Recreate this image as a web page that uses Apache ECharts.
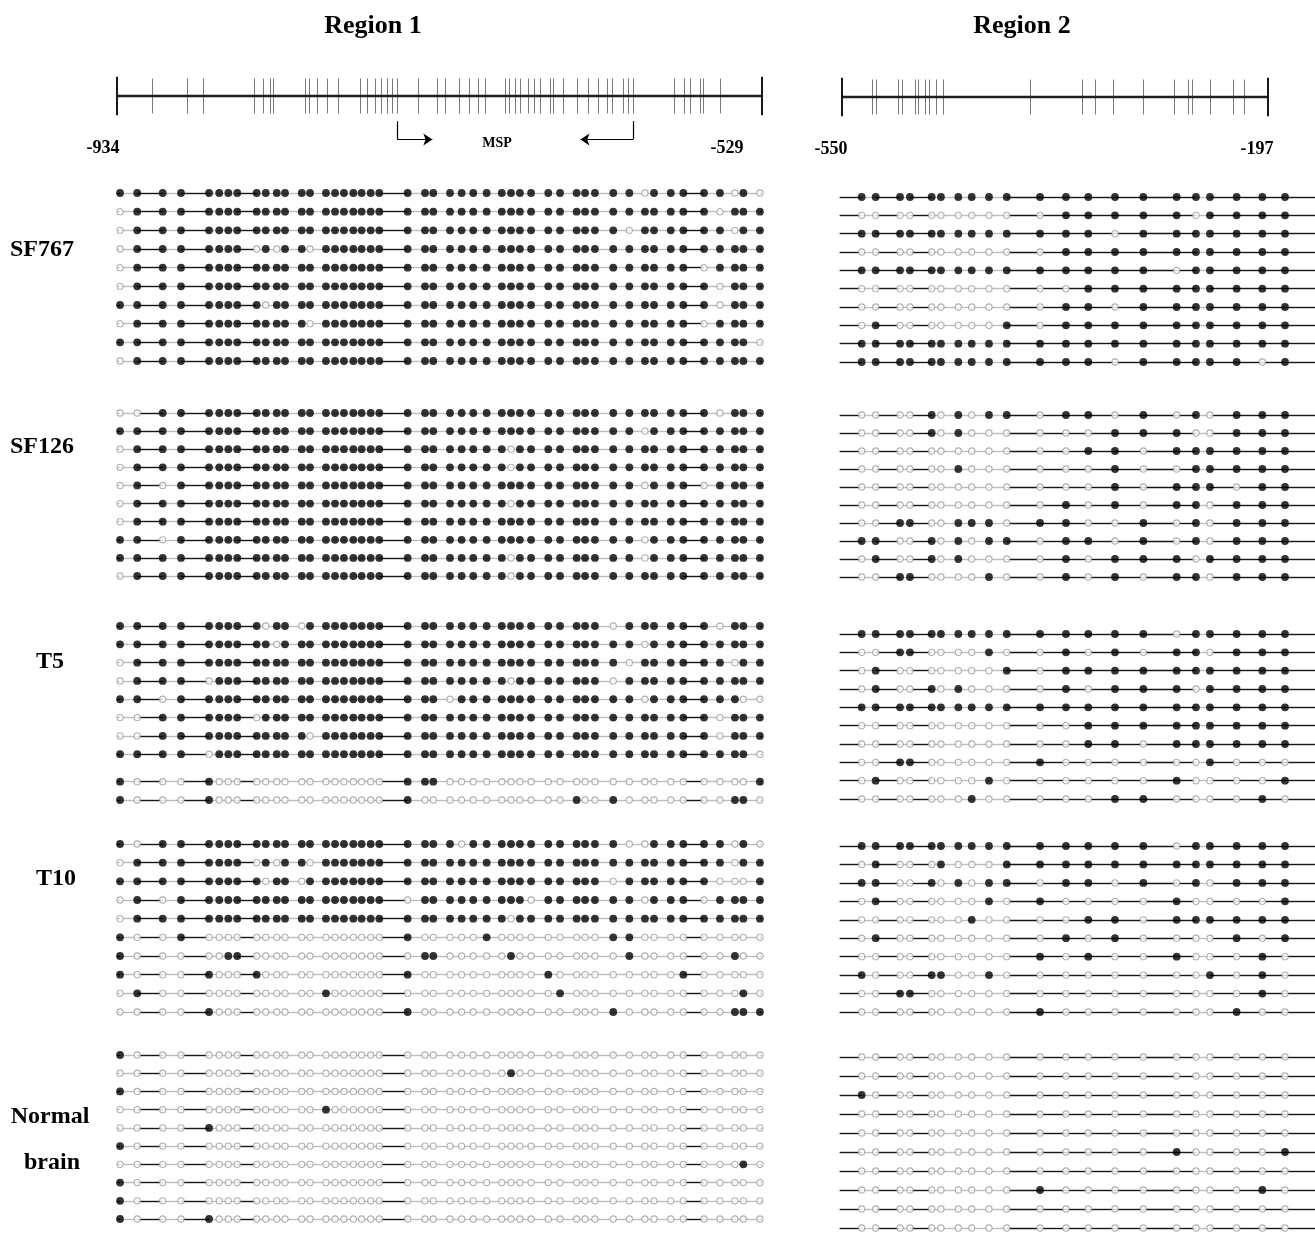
<!DOCTYPE html>
<html><head><meta charset="utf-8">
<script src="https://cdn.jsdelivr.net/npm/echarts@6/dist/echarts.min.js"></script>
<style>html,body{margin:0;padding:0;background:#fff}#c{width:1315px;height:1245px}</style>
</head><body><div id="c"></div>
<script>
// ---------------- DATA ----------------
const regionTitles = ['Region 1', 'Region 2'];
const sampleNames = ['SF767', 'SF126', 'T5', 'T10', 'Normal brain'];
const r1Range = [-934, -529];
const r2Range = [-550, -197];
// CpG ticks on the rulers (bp)
const r1CpG = [-912,-890,-880,-848,-842,-838,-836,-816,-813,-808,-802,-795,-781,-777,-772,-768,-764,-761,-758,-745,-733,-728,-719,-713,-707,-703,-690,-688,-684,-681,-676,-672,-668,-662,-660,-654,-645,-638,-632,-626,-623,-616,-613,-610,-584,-578,-574,-568,-566,-555];
const r2CpG = [-525,-522,-503,-500,-489,-487,-481,-478,-472,-466,-394,-351,-340,-325,-300,-275,-263,-260,-245,-226,-217];
// schematic positions of the lollipop sites (bp scale of each ruler)
const r1Sites = [-932.1,-921.3,-905.3,-893.8,-876.2,-869.8,-864.1,-858.5,-846.3,-840.6,-833.7,-828.5,-818.0,-812.8,-802.8,-797.1,-791.5,-785.6,-780.4,-774.7,-769.3,-751.5,-740.6,-735.4,-724.9,-717.6,-710.3,-701.9,-692.4,-686.6,-681.0,-674.0,-663.2,-655.8,-645.4,-640.1,-633.9,-622.4,-612.3,-602.5,-596.8,-586.3,-578.4,-565.4,-555.4,-546.0,-540.7,-530.3];
const r2Sites = [-533.7,-522.1,-501.9,-493.7,-475.7,-468.0,-453.6,-442.5,-428.2,-413.5,-385.9,-364.4,-345.9,-323.8,-300.3,-272.7,-256.7,-245.1,-223.0,-201.7,-182.9];
const r2LineSpan = [-552, -158];
const mspForward = [-758, -736];
const mspReverse = [-610, -643];
const mspLabel = 'MSP';

// methylation state per clone: 1 = methylated (filled), 0 = unmethylated (open)
const sf767R1 = [
'1111 1111 11 11 11 1111111 1 11 1111 1111 11 111 1 1 01 111 1 01 0',
'0111 1111 11 11 11 1111111 1 11 1111 1111 11 111 1 1 11 111 0 11 1',
'0111 1111 11 11 11 1111111 1 11 1111 1111 11 111 1 0 11 111 1 01 1',
'0111 1111 01 01 10 1111111 1 11 1111 1111 11 111 1 1 11 111 1 11 1',
'0111 1111 11 11 11 1111111 1 11 1111 1111 11 111 1 1 11 110 1 11 1',
'0111 1111 11 11 11 1111111 1 11 1111 1111 11 111 1 1 11 111 0 11 1',
'1111 1111 10 11 11 1111111 1 11 1111 1111 11 111 1 1 11 111 0 11 1',
'0111 1111 11 11 10 1111111 1 11 1111 1111 11 111 1 1 11 110 1 11 1',
'1111 1111 11 11 11 1111111 1 11 1111 1111 11 111 1 1 11 111 1 11 0',
'0111 1111 11 11 11 1111111 1 11 1111 1111 11 111 1 1 11 111 1 11 1'];
const sf126R1 = [
'0011 1111 11 11 11 1111111 1 11 1111 1111 11 111 1 1 11 111 0 11 1',
'1111 1111 11 11 11 1111111 1 11 1111 1111 11 111 1 1 01 111 1 11 1',
'0111 1111 11 11 11 1111111 1 11 1111 1011 11 111 1 1 11 111 1 11 1',
'0111 1111 11 11 11 1111111 1 11 1111 1011 11 111 1 1 11 111 1 11 1',
'0101 1111 11 11 11 1111111 1 11 1111 1111 11 111 1 1 01 110 1 11 1',
'0111 1111 11 11 11 1111111 1 11 1111 1011 11 111 1 1 11 111 1 11 1',
'0111 1111 11 11 11 1111111 1 11 1111 1111 11 111 1 1 11 111 1 11 1',
'1101 1111 11 11 11 1111111 1 11 1111 1111 11 111 1 1 01 111 1 11 1',
'1111 1111 11 11 11 1111111 1 11 1111 1011 11 111 1 1 01 111 1 11 1',
'0111 1111 11 11 11 1111111 1 11 1111 1011 11 111 1 1 11 111 1 11 1'];
const t5R1 = [
'1111 1111 10 11 01 1111111 1 11 1111 1111 11 111 0 1 11 111 0 11 1',
'1111 1111 11 01 11 1111111 1 11 1111 1111 11 111 1 1 01 111 1 11 1',
'0111 1111 11 11 11 1111111 1 11 1111 1111 11 111 1 0 11 111 1 01 1',
'0111 0111 11 11 11 1111111 1 11 1111 1011 11 111 0 1 11 111 1 11 1',
'1101 1111 11 11 11 1111111 1 11 0111 1111 11 111 1 1 01 111 1 10 0',
'0011 1111 01 11 11 1111111 1 11 1111 1111 11 111 1 1 11 111 0 11 1',
'0011 1111 11 11 10 1111111 1 11 1111 1111 11 111 1 1 11 111 0 11 1',
'1111 0111 11 11 11 1111111 1 11 1111 1111 11 111 1 1 11 111 1 11 0',
'1000 1000 00 00 00 0000000 1 11 0000 0000 00 000 0 0 00 000 0 00 1',
'1000 1000 00 00 00 0000000 1 00 0000 0000 00 100 1 0 00 000 0 11 0'];
const t10R1 = [
'1011 1111 11 11 11 1111111 1 11 1011 1111 11 111 1 0 01 111 1 01 0',
'0111 1111 01 01 10 1111111 1 11 1111 1111 11 111 1 1 11 111 1 01 1',
'1111 1111 10 11 01 1111111 1 11 1111 1111 11 111 0 1 11 111 0 00 1',
'0101 1111 11 11 11 1111111 0 11 1111 1110 11 111 1 1 01 110 1 11 1',
'0111 1111 11 11 11 1111111 1 11 1111 1011 11 111 1 1 11 111 1 11 1',
'1001 0000 00 00 00 0000000 1 00 0001 0000 00 000 1 1 00 000 0 00 0',
'1000 0011 00 00 00 0000000 0 11 0000 0100 00 000 0 1 00 000 0 10 0',
'1000 1000 10 00 00 0000000 1 00 0000 0000 10 000 0 0 00 010 0 00 0',
'0100 0000 00 00 00 1000000 0 00 0000 0000 01 000 0 0 00 000 0 01 0',
'0000 1000 00 00 00 0000000 1 00 0000 0000 00 000 1 0 00 000 0 11 1'];
const normalR1 = [
'1000 0000 00 00 00 0000000 0 00 0000 0000 00 000 0 0 00 000 0 00 0',
'0000 0000 00 00 00 0000000 0 00 0000 0100 00 000 0 0 00 000 0 00 0',
'1000 0000 00 00 00 0000000 0 00 0000 0000 00 000 0 0 00 000 0 00 0',
'0000 0000 00 00 00 1000000 0 00 0000 0000 00 000 0 0 00 000 0 00 0',
'0000 1000 00 00 00 0000000 0 00 0000 0000 00 000 0 0 00 000 0 00 0',
'1000 0000 00 00 00 0000000 0 00 0000 0000 00 000 0 0 00 000 0 00 0',
'0000 0000 00 00 00 0000000 0 00 0000 0000 00 000 0 0 00 000 0 01 0',
'1000 0000 00 00 00 0000000 0 00 0000 0000 00 000 0 0 00 000 0 00 0',
'1000 0000 00 00 00 0000000 0 00 0000 0000 00 000 0 0 00 000 0 00 0',
'1000 1000 00 00 00 0000000 0 00 0000 0000 00 000 0 0 00 000 0 00 0'];

const sf767R2 = [
'11 11 11 11 1 1 1 1 1 1 1 111 1 1 1',
'00 00 00 00 0 0 0 1 1 1 1 101 1 1 1',
'11 11 11 11 1 1 1 1 1 0 1 111 1 1 1',
'00 00 00 00 0 0 0 1 1 1 1 111 1 1 1',
'11 11 11 11 1 1 1 1 1 1 1 011 1 1 1',
'00 00 00 00 0 0 0 0 1 1 1 111 1 1 1',
'00 00 00 00 0 0 0 1 1 0 1 111 1 1 1',
'01 00 00 00 0 1 0 1 1 1 1 111 1 1 1',
'11 11 11 11 1 1 1 1 1 1 1 111 1 1 1',
'11 11 11 11 1 1 1 1 1 0 1 111 1 0 1'];
const sf126R2 = [
'00 00 10 10 1 1 0 1 1 0 1 010 1 1 1',
'00 00 10 10 0 0 0 0 0 1 1 100 1 1 1',
'00 00 00 00 0 0 0 0 1 1 0 111 1 1 1',
'00 00 00 10 0 0 0 0 0 1 0 011 1 1 1',
'00 00 00 00 0 0 0 0 0 1 0 111 0 1 1',
'00 00 00 00 0 0 0 1 0 1 0 110 1 1 1',
'00 11 00 11 1 0 1 1 0 0 1 010 1 1 1',
'11 00 10 10 1 1 0 1 1 0 1 010 1 1 1',
'01 00 10 10 0 0 0 1 0 1 1 101 1 1 1',
'00 11 00 00 1 0 0 1 0 1 0 110 1 1 1'];
const t5R2 = [
'11 11 11 11 1 1 1 1 1 1 1 011 1 1 1',
'00 11 00 00 1 0 0 1 0 1 0 110 1 1 1',
'01 00 00 00 0 1 0 1 1 1 1 111 1 1 1',
'01 00 10 10 0 0 0 1 0 1 1 101 1 1 1',
'11 11 11 11 1 1 1 1 1 1 1 111 1 1 1',
'00 00 00 00 0 0 0 0 1 1 1 111 1 1 1',
'00 00 00 00 0 0 0 0 1 1 0 111 1 1 1',
'00 11 00 00 0 0 1 0 0 0 0 001 0 0 0',
'01 00 00 00 1 0 0 0 0 0 0 100 0 0 1',
'00 00 00 01 0 0 0 0 0 1 1 000 0 1 0'];
const t10R2 = [
'11 11 11 11 1 1 1 1 1 1 1 011 1 1 1',
'01 00 01 00 0 1 1 1 1 1 1 111 1 1 1',
'11 00 10 10 1 1 0 1 1 0 1 010 1 1 1',
'01 00 00 00 1 0 1 0 0 0 0 100 0 0 1',
'00 00 00 01 0 0 0 0 1 1 0 111 1 1 1',
'01 00 00 00 0 0 0 1 0 1 0 000 1 0 1',
'00 00 00 00 0 0 1 0 1 0 0 100 0 1 0',
'10 00 11 00 1 0 0 0 0 0 0 001 0 1 0',
'00 11 00 00 0 0 0 0 0 0 0 000 0 1 0',
'00 00 00 00 0 0 1 0 0 0 0 000 1 0 0'];
const normalR2 = [
'00 00 00 00 0 0 0 0 0 0 0 000 0 0 0',
'00 00 00 00 0 0 0 0 0 0 0 000 0 0 0',
'10 00 00 00 0 0 0 0 0 0 0 000 0 0 0',
'00 00 00 00 0 0 0 0 0 0 0 000 0 0 0',
'00 00 00 00 0 0 0 0 0 0 0 000 0 0 0',
'00 00 00 00 0 0 0 0 0 0 0 100 0 0 1',
'00 00 00 00 0 0 0 0 0 0 0 000 0 0 0',
'00 00 00 00 0 0 1 0 0 0 0 000 0 1 0',
'00 00 00 00 0 0 0 0 0 0 0 000 0 0 0',
'00 00 00 00 0 0 0 0 0 0 0 000 0 0 0'];

// ---------------- LAYOUT / STYLE ----------------
const FONT = '"Liberation Serif", "Times New Roman", serif';
const R1 = {left: 117, width: 645};
const R2 = {left: 842, width: 426};
const evenRows = [0,1,2,3,4,5,6,7,8,9];
const t5GapRows = [0,1,2,3,4,5,6,7,8.5,9.5];
const blocks = [
  {r1: [193, 361], r2: [197, 362], r1Rows: evenRows, d1: sf767R1, d2: sf767R2},
  {r1: [413, 576], r2: [415, 577], r1Rows: evenRows, d1: sf126R1, d2: sf126R2},
  {r1: [626, 800], r2: [634, 799], r1Rows: t5GapRows, d1: t5R1, d2: t5R2},
  {r1: [844, 1012], r2: [846, 1012], r1Rows: evenRows, d1: t10R1, d2: t10R2},
  {r1: [1055, 1219], r2: [1057, 1228], r1Rows: evenRows, d1: normalR1, d2: normalR2}
];
const DARK = '#161616', LIGHT = '#bdbdbd';

const grids = [], xAxes = [], yAxes = [], series = [];
function addGrid(left, width, top, height, xr, yr, inverse, xExtra) {
  const i = grids.length;
  grids.push({left: left, width: width, top: top, height: height});
  xAxes.push(Object.assign({gridIndex: i, type: 'value', min: xr[0], max: xr[1], show: false}, xExtra || {}));
  yAxes.push({gridIndex: i, type: 'value', min: yr[0], max: yr[1], inverse: !!inverse, show: false});
  return i;
}
function linesSeries(g, data, style, extra) {
  return Object.assign({
    type: 'lines', coordinateSystem: 'cartesian2d', xAxisIndex: g, yAxisIndex: g,
    silent: true, clip: false, animation: false, z: 1,
    lineStyle: Object.assign({opacity: 1, curveness: 0}, style), data: data
  }, extra || {});
}

// rulers
function addRuler(reg, top, range, cpg, labelPads, withMsp) {
  const g = addGrid(reg.left, reg.width, top, 77, range, [-1.2, 1], false, {
    show: true, axisLine: {show: false}, axisTick: {show: false}, splitLine: {show: false},
    axisLabel: {
      show: true, customValues: range, margin: 1, alignMinLabel: 'center', alignMaxLabel: 'center',
      formatter: function (v) { return (v === range[0] ? '{a|' : '{b|') + v + '}'; },
      rich: {
        a: {fontFamily: FONT, fontWeight: 'bold', fontSize: 18, color: '#000', padding: [0, labelPads[0], 0, 0]},
        b: {fontFamily: FONT, fontWeight: 'bold', fontSize: 18, color: '#000', padding: [0, labelPads[1], 0, 0]}
      }
    }
  });
  series.push(linesSeries(g, cpg.map(c => ({coords: [[c, 0.5], [c, -0.5]]})), {color: '#7a7a7a', width: 1}));
  series.push(linesSeries(g, [{coords: [[range[0], 0], [range[1], 0]]}], {color: '#1e1e1e', width: 2.3}));
  series.push(linesSeries(g, range.map(c => ({coords: [[c, 0.55], [c, -0.55]]})), {color: '#000', width: 1.8}));
  if (withMsp) {
    // bracket verticals
    series.push(linesSeries(g, [
      {coords: [[mspForward[0], -0.72], [mspForward[0], -1.24]]},
      {coords: [[mspReverse[0], -0.72], [mspReverse[0], -1.24]]}
    ], {color: '#000', width: 1.2}));
    // horizontal arrows
    series.push(linesSeries(g, [
      {coords: [[mspForward[0], -1.24], [mspForward[1], -1.24]]},
      {coords: [[mspReverse[0], -1.24], [mspReverse[1], -1.24]]}
    ], {color: '#000', width: 1.2}, {symbol: ['none', 'arrow'], symbolSize: [7, 9]}));
  }
}
addRuler(R1, 61, r1Range, r1CpG, [28, 70], true);
addRuler(R2, 62, r2Range, r2CpG, [22, 22], false);

// lollipop blocks
function addBlock(reg, range, px, rowPos, rows, sites, span, thresh) {
  const g = addGrid(reg.left, reg.width, px[0], px[1] - px[0], range, [rowPos[0], rowPos[rowPos.length - 1]], true);
  const segs = [], filled = [], open = [];
  rows.forEach(function (s, r) {
    const st = s.replace(/\s/g, '');
    const y = rowPos[r];
    const pts = [span[0]].concat(sites).concat([span[1]]);
    for (let k = 0; k < pts.length - 1; k++) {
      const a = pts[k], b = pts[k + 1];
      if (b - a <= 0.01) continue;
      const isEnd = (k === 0 || k === pts.length - 2);
      const dark = isEnd || (b - a) > thresh;
      segs.push({coords: [[a, y], [b, y]], lineStyle: {color: dark ? DARK : LIGHT}});
    }
    sites.forEach(function (x, i) {
      (st[i] === '1' ? filled : open).push([x, y]);
    });
  });
  series.push(linesSeries(g, segs, {width: 1.4}));
  series.push({type: 'scatter', xAxisIndex: g, yAxisIndex: g, silent: true, clip: false, animation: false, z: 3,
    symbol: 'circle', symbolSize: 6.2, data: open,
    itemStyle: {color: '#fff', borderColor: '#9c9c9c', borderWidth: 1.1}});
  series.push({type: 'scatter', xAxisIndex: g, yAxisIndex: g, silent: true, clip: false, animation: false, z: 4,
    symbol: 'circle', symbolSize: 7.8, data: filled, itemStyle: {color: '#000'}});
}
blocks.forEach(function (b) {
  addBlock(R1, r1Range, b.r1, b.r1Rows, b.d1, r1Sites, r1Range, 11.9);
  addBlock(R2, r2Range, b.r2, evenRows, b.d2, r2Sites, r2LineSpan, 15.5);
});

// text labels
function txt(x, y, s, size) {
  return {type: 'text', x: x, y: y, silent: true, style: {text: s, fill: '#000',
    font: 'bold ' + size + 'px ' + FONT, textAlign: 'center', textVerticalAlign: 'middle', verticalAlign: 'middle'}};
}
const labelPos = [[42, 250], [42, 447], [50, 662], [56, 879]];
const graphics = [txt(373, 26, regionTitles[0], 26), txt(1022, 26, regionTitles[1], 26), txt(497, 143, mspLabel, 14)];
sampleNames.forEach(function (n, i) {
  if (i < 4) graphics.push(txt(labelPos[i][0], labelPos[i][1], n, 24));
  else {
    const parts = n.split(' ');
    graphics.push(txt(50, 1117, parts[0], 24));
    graphics.push(txt(52, 1163, parts[1], 24));
  }
});

const chart = echarts.init(document.getElementById('c'));
chart.setOption({
  animation: false,
  backgroundColor: '#fff',
  grid: grids, xAxis: xAxes, yAxis: yAxes, series: series,
  graphic: graphics
});
</script></body></html>
